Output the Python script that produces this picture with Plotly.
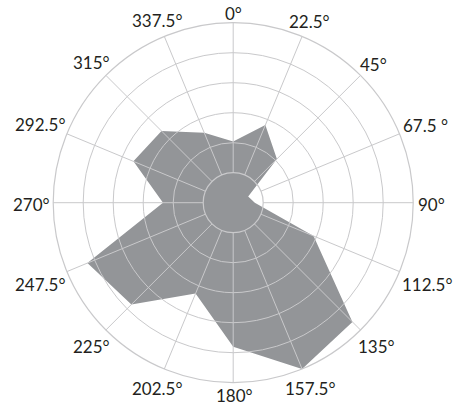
import math
import plotly.graph_objects as go

# Compass directions (degrees) and the frequency recorded for each
directions = [0, 22.5, 45, 67.5, 90, 112.5, 135, 157.5,
              180, 202.5, 225, 247.5, 270, 292.5, 315, 337.5]
frequency = [10.2, 14.0, 10.3, 2.7, 3.6, 14.5, 28.1, 30.0,
             24.0, 16.4, 24.0, 26.3, 11.7, 18.0, 16.9, 12.6]
direction_labels = ["0°", "22.5°", "45°", "67.5 °", "90°", "112.5°", "135°", "157.5°",
                    "180°", "202.5°", "225°", "247.5°", "270°", "292.5°", "315°", "337.5°"]

FILL = "#939598"
GRID = "#c9c9cb"
TEXT = "#231f20"
FONT = "Lato, 'Open Sans', sans-serif"
FONT_SIZE = 17

W, H = 460, 402
CX, CY, RADIUS = 233.2, 202.7, 180      # rose centre / outer ring, px from top-left
LABEL_CX, LABEL_CY, LABEL_R = 234.0, 204.5, 184


def domain(cx, cy, rad):
    """Paper-space domain for a polar subplot centred at (cx, cy) px from top-left."""
    return dict(x=[(cx - rad) / W, (cx + rad) / W],
                y=[(H - cy - rad) / H, (H - cy + rad) / H])


def text_width(s):
    em = {".": 0.25, "°": 0.40, " ": 0.19}
    return sum(em.get(ch, 0.58) for ch in s) * FONT_SIZE


rose_domain = domain(CX, CY, RADIUS)

fig = go.Figure()

# filled rose polygon
fig.add_trace(go.Scatterpolar(
    r=frequency, theta=directions, mode="lines", fill="toself",
    fillcolor=FILL, line=dict(width=0, color=FILL),
    subplot="polar", hoverinfo="skip", showlegend=False,
))

# empty trace so the grid subplot (with its hole) is drawn over the fill
fig.add_trace(go.Scatterpolar(r=[], theta=[], subplot="polar2",
                              hoverinfo="skip", showlegend=False))

# direction labels set just outside the outer ring
cap_h = 13
annotations = []
for ang, lab in zip(directions, direction_labels):
    s, c = math.sin(math.radians(ang)), math.cos(math.radians(ang))
    d = LABEL_R + 0.5 * (text_width(lab) * abs(s) + cap_h * abs(c))
    px, py = LABEL_CX + d * s, LABEL_CY - d * c
    annotations.append(dict(
        x=px / W, y=(H - py) / H, xref="paper", yref="paper",
        text=lab, showarrow=False, xanchor="center", yanchor="middle",
        font=dict(family=FONT, size=FONT_SIZE, color=TEXT),
    ))

fig.update_layout(
    width=W, height=H,
    margin=dict(l=0, r=0, t=0, b=0),
    paper_bgcolor="white",
    showlegend=False,
    font=dict(family=FONT, size=FONT_SIZE, color=TEXT),
    annotations=annotations,
    polar=dict(
        domain=rose_domain,
        bgcolor="white",
        radialaxis=dict(range=[0, 30], visible=False),
        angularaxis=dict(visible=False, direction="clockwise", rotation=90),
    ),
    polar2=dict(
        domain=rose_domain,
        bgcolor="rgba(0,0,0,0)",
        hole=1 / 6,
        radialaxis=dict(range=[0, 25], tickmode="array", tickvals=[0, 5, 10, 15, 20, 25],
                        showticklabels=False, showline=False, ticks="",
                        gridcolor=GRID, gridwidth=1.2),
        angularaxis=dict(direction="clockwise", rotation=90,
                         tickmode="array", tickvals=directions,
                         showticklabels=False, ticks="",
                         showline=True, linecolor=GRID, linewidth=1.2,
                         gridcolor=GRID, gridwidth=1.2),
    ),
)

fig.write_html("out.html")
